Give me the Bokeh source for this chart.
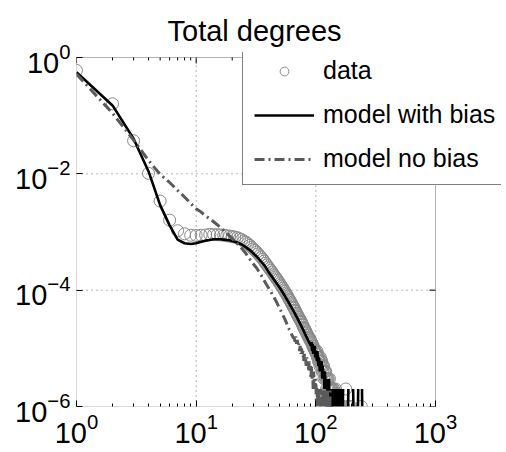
import math
from bokeh.plotting import figure
from bokeh.models import (Legend, LegendItem, FixedTicker, Range1d,
                          ColumnDataSource, BoxAnnotation)
from bokeh.embed import file_html
from bokeh.resources import INLINE

nan = float("nan")

# ---------------- data ----------------
title_text = "Total degrees"
legend_labels = ["data", "model with bias", "model no bias"]
x_ticks = [1, 10, 100, 1000]
y_ticks = [1e-6, 1e-4, 1e-2, 1]

# observed data: degree and fraction
data_deg = list(range(1, 101)) + [
    101, 102, 103, 104, 105, 106, 107, 108, 109, 110, 111, 112, 113, 114, 115,
    116, 117, 118, 119, 120, 121, 122, 123, 124, 125, 126, 127, 128, 129, 130,
    131, 132, 133, 134, 135, 136, 137, 138, 139, 140, 141, 142, 143, 145, 146,
    148, 150, 152, 153, 156, 158, 161, 165, 170, 178, 185, 196, 240]
data_frac = [
    0.6, 0.16, 0.037, 0.0102, 0.0034, 0.0016, 0.00105, 0.00093, 0.00088, 0.00087,
    0.00088, 0.00089, 0.00091, 0.00090, 0.00090, 0.00089, 0.00088, 0.00086, 0.00085, 0.00083,
    0.00082, 0.00080, 0.00077, 0.00074, 0.00070, 0.00067, 0.00063, 0.00059, 0.00055, 0.00051,
    4.8e-4, 4.5e-4, 4.2e-4, 3.9e-4, 3.65e-4, 3.4e-4, 3.15e-4, 2.9e-4, 2.7e-4, 2.5e-4,
    2.35e-4, 2.2e-4, 2.05e-4, 1.9e-4, 1.78e-4, 1.68e-4, 1.57e-4, 1.48e-4, 1.39e-4, 1.3e-4,
    1.22e-4, 1.15e-4, 1.08e-4, 1.01e-4, 9.5e-5, 8.9e-5, 8.4e-5, 7.9e-5, 7.4e-5, 6.9e-5,
    6.6e-5, 6.1e-5, 5.8e-5, 5.4e-5, 5.1e-5, 4.9e-5, 4.5e-5, 4.3e-5, 4.0e-5, 3.8e-5,
    3.6e-5, 3.4e-5, 3.2e-5, 3.1e-5, 2.9e-5, 2.8e-5, 2.6e-5, 2.5e-5, 2.3e-5, 2.2e-5,
    2.1e-5, 2.0e-5, 1.9e-5, 1.8e-5, 1.7e-5, 1.65e-5, 1.55e-5, 1.5e-5, 1.4e-5, 1.4e-5,
    1.3e-5, 1.25e-5, 1.2e-5, 1.1e-5, 1.1e-5, 1.0e-5, 9.8e-6, 9.3e-6, 8.9e-6, 8.6e-6,
    8e-6, 9e-6, 7e-6, 8e-6, 6e-6, 7e-6, 6e-6, 5e-6, 7e-6, 6e-6,
    5e-6, 6e-6, 4e-6, 5e-6, 4e-6, 5e-6, 3e-6, 4e-6, 4e-6, 3e-6,
    4e-6, 3e-6, 2e-6, 3e-6, 3e-6, 2e-6, 3e-6, 2e-6, 2e-6, 3e-6,
    2e-6, 1e-6, 2e-6, 2e-6, 1e-6, 2e-6, 1e-6, 2e-6, 1e-6, 1e-6,
    2e-6, 1e-6, 1e-6, 1e-6, 2e-6, 1e-6, 1e-6, 1e-6, 1e-6, 1e-6,
    1e-6, 1e-6, 1e-6, 1e-6, 2e-6, 1e-6, 1e-6, 1e-6]

# model with bias (gaps = nan)
bias_deg = [1, 2, 3, 4, 5, 6, 7, 8, 9, 10, 11, 12, 13, 14, 15, 16, 17, 18, 19, 20,
            22, 24, 26, 28, 30, 32, 34, 36, 38, 40, 43, 46, 50, 55, 60, 65, 70, 75,
            80, 85, 90] + list(range(91, 142)) + [
            142, 143, 144, 145, 146, 147, 148, 149, 150, 151, 152, 153, 154, 155,
            157, 158, 159, 162, 163, 164, 168, 169, 170, 186, 187, 188, 205, 206,
            207, 225, 226, 227, 243, 244]
bias_frac = [0.56, 0.15, 0.04, 0.011, 0.0029, 0.0013, 0.00074, 0.00064, 0.00062, 0.00064,
             0.00068, 0.00071, 0.00073, 0.00075, 0.00075, 0.00075, 0.00074, 0.00073, 0.00072, 0.00070,
             0.00066, 0.00061, 0.00055, 0.00049, 0.00043, 0.00038, 0.00033, 0.00029, 0.00025, 0.00021,
             0.00017, 0.00014, 0.00011, 8.0e-5, 5.9e-5, 4.4e-5, 3.3e-5, 2.5e-5, 1.9e-5, 1.45e-5,
             1.15e-5,
             11e-6, 13e-6, 9e-6, 12e-6, 8e-6, 10e-6, 9e-6, 11e-6, 7e-6, 9e-6,
             8e-6, 6e-6, 9e-6, 7e-6, 5e-6, 7e-6, 6e-6, 4e-6, 6e-6, 5e-6,
             4e-6, 6e-6, 3e-6, 5e-6, 4e-6, 3e-6, 4e-6, 2e-6, 4e-6, 3e-6,
             2e-6, 3e-6, 2e-6, 3e-6, 1e-6, 2e-6, 2e-6, 1e-6, 3e-6, 1e-6,
             2e-6, 1e-6, 2e-6, 1e-6, 1e-6, 2e-6, 1e-6, 1e-6, 2e-6, 1e-6,
             1e-6,
             nan, 1e-6, 2e-6, 1e-6, nan, 1e-6, 2e-6, nan, 2e-6, 1e-6, nan, 1e-6, 2e-6, nan,
             1e-6, 2e-6, nan, 2e-6, 1e-6, nan, 1e-6, 2e-6, nan, 1e-6, 2e-6, nan, 2e-6, 1e-6,
             nan, 1e-6, 2e-6, nan, 2e-6, 1e-6]

# model without bias
nobias_deg = [1, 2, 3, 4, 5, 6, 7, 8, 9, 10, 11, 12, 14, 16, 18, 20, 23, 26, 29, 32,
              35, 38, 42, 46, 50, 55, 60, 65] + list(range(66, 112)) + [
              112, 113, 114, 115, 116, 118, 119, 120, 121, 124, 125, 126, 127, 131, 132, 133]
nobias_frac = [0.52, 0.11, 0.038, 0.017, 0.0098, 0.0071, 0.0052, 0.0040, 0.0031, 0.0025,
               0.0022, 0.0019, 0.0015, 0.0012, 0.00095, 0.00077, 0.00058, 0.00043, 0.00031, 0.00024,
               0.00018, 0.000133, 9.5e-5, 6.8e-5, 4.8e-5, 3.2e-5, 2.1e-5, 1.5e-5,
               15e-6, 13e-6, 16e-6, 12e-6, 14e-6, 11e-6, 12e-6, 9e-6, 11e-6, 8e-6,
               10e-6, 8e-6, 9e-6, 6e-6, 8e-6, 6e-6, 7e-6, 5e-6, 7e-6, 5e-6,
               6e-6, 4e-6, 6e-6, 4e-6, 5e-6, 3e-6, 5e-6, 3e-6, 4e-6, 2e-6,
               4e-6, 2e-6, 3e-6, 2e-6, 3e-6, 1e-6, 2e-6, 2e-6, 1e-6, 2e-6,
               1e-6, 2e-6, 1e-6, 1e-6, 2e-6, 1e-6,
               nan, 1e-6, 2e-6, 1e-6, nan, 1e-6, 2e-6, 1e-6, nan, 1e-6, 2e-6, 1e-6, nan,
               1e-6, 2e-6, nan]

# ---------------- figure ----------------
FONT = "Liberation Sans"
W, H = 506, 452
LEFT, RIGHT, TOP, BOTTOM = 76, 5, 52, 46
PX_X = 359   # pixels spanned by the 3 x-decades (1 .. 1000)
PX_Y = 349   # pixels spanned by the 6 y-decades (1e-6 .. 1)
frame_w = W - LEFT - RIGHT
frame_h = H - TOP - BOTTOM
# the frame reaches a bit beyond the axes box so the legend can overhang it
x_end = x_ticks[-1] ** (frame_w / PX_X)
y_end = y_ticks[0] ** (1 - frame_h / PX_Y)

p = figure(width=W, height=H, x_axis_type="log", y_axis_type="log",
           x_range=Range1d(x_ticks[0], x_end), y_range=Range1d(y_ticks[0], y_end),
           output_backend="svg", toolbar_location=None,
           min_border_left=LEFT, min_border_right=RIGHT, min_border_top=TOP,
           min_border_bottom=BOTTOM)
p.background_fill_color = "white"
p.border_fill_color = "white"
p.outline_line_color = None

p.title.text = title_text
p.title.align = "left"
p.title.offset = 91
p.title.text_font = FONT
p.title.text_font_size = "29px"
p.title.text_font_style = "normal"
p.title.text_color = "black"
p.title.vertical_align = "middle"
p.title.standoff = 10

minor_x = [m * d for d in (1, 10, 100) for m in range(2, 10)]
xt = FixedTicker(ticks=x_ticks, minor_ticks=minor_x)
yt = FixedTicker(ticks=y_ticks, minor_ticks=[])


def style_axis(ax, minor=True):
    ax.axis_line_color = None
    ax.major_tick_line_color = "black"
    ax.major_tick_in = 6
    ax.major_tick_out = 0
    ax.minor_tick_in = 3 if minor else 0
    ax.minor_tick_out = 0
    ax.minor_tick_line_color = "black" if minor else None
    ax.major_label_text_font = FONT
    ax.major_label_text_color = "black"
    ax.major_label_text_font_size = "29px"
    ax.major_label_standoff = 6


xa = p.xaxis[0]
xa.ticker = xt
style_axis(xa, True)
ya = p.yaxis[0]
ya.ticker = yt
style_axis(ya, False)

p.xgrid.visible = False
p.ygrid.visible = False
GRID = dict(line_color="#666666", line_dash="1 4", line_width=1)
# grid lines limited to the axes box
n_h = len(y_ticks) - 2
p.segment(x0=[x_ticks[0]] * n_h, x1=[x_ticks[-1]] * n_h, y0=y_ticks[1:-1], y1=y_ticks[1:-1], **GRID)
n_v = len(x_ticks) - 2
p.segment(x0=x_ticks[1:-1], x1=x_ticks[1:-1], y0=[y_ticks[0]] * n_v, y1=[y_ticks[-1]] * n_v, **GRID)

# top tick marks (mirror of the bottom ones)
p.segment(x0=x_ticks + minor_x, x1=x_ticks + minor_x,
          y0=[y_ticks[-1]] * (len(x_ticks) + len(minor_x)),
          y1=[y_ticks[-1] * 0.79] * len(x_ticks) + [y_ticks[-1] * 0.89] * len(minor_x),
          line_color="black", line_width=1)
# right tick marks
p.segment(x0=[x_ticks[-1]] * len(y_ticks), x1=[x_ticks[-1] * 0.89] * len(y_ticks),
          y0=y_ticks, y1=y_ticks, line_color="black", line_width=1)

src_data = ColumnDataSource(dict(x=data_deg, y=data_frac))
src_bias = ColumnDataSource(dict(x=bias_deg, y=bias_frac))
src_nob = ColumnDataSource(dict(x=nobias_deg, y=nobias_frac))

r_data = p.scatter("x", "y", source=src_data, marker="circle", size=12,
                   fill_color=None, line_color="#8a8a8a", line_width=1)
r_bias = p.line("x", "y", source=src_bias, line_color="black", line_width=2.6)
r_nob = p.line("x", "y", source=src_nob, line_color="#5a5a5a", line_width=3,
               line_dash="10 4 2 4")

# axes box
p.add_layout(BoxAnnotation(left=x_ticks[0], right=x_ticks[-1], bottom=y_ticks[0],
                           top=y_ticks[-1], fill_alpha=0, fill_color=None,
                           line_color="black", line_width=1, level="overlay"))

legend = Legend(items=[LegendItem(label=legend_labels[0], renderers=[r_data]),
                       LegendItem(label=legend_labels[1], renderers=[r_bias]),
                       LegendItem(label=legend_labels[2], renderers=[r_nob])],
                location=(166, 221))
legend.label_text_font = FONT
legend.label_text_font_size = "25px"
legend.label_text_color = "black"
legend.glyph_width = 60
legend.glyph_height = 22
legend.spacing = 15
legend.padding = 11
legend.margin = 0
legend.label_standoff = 9
legend.border_line_color = "black"
legend.border_line_width = 1
legend.background_fill_color = "white"
legend.background_fill_alpha = 1
p.add_layout(legend)

open("out.html", "w").write(file_html(p, INLINE))
